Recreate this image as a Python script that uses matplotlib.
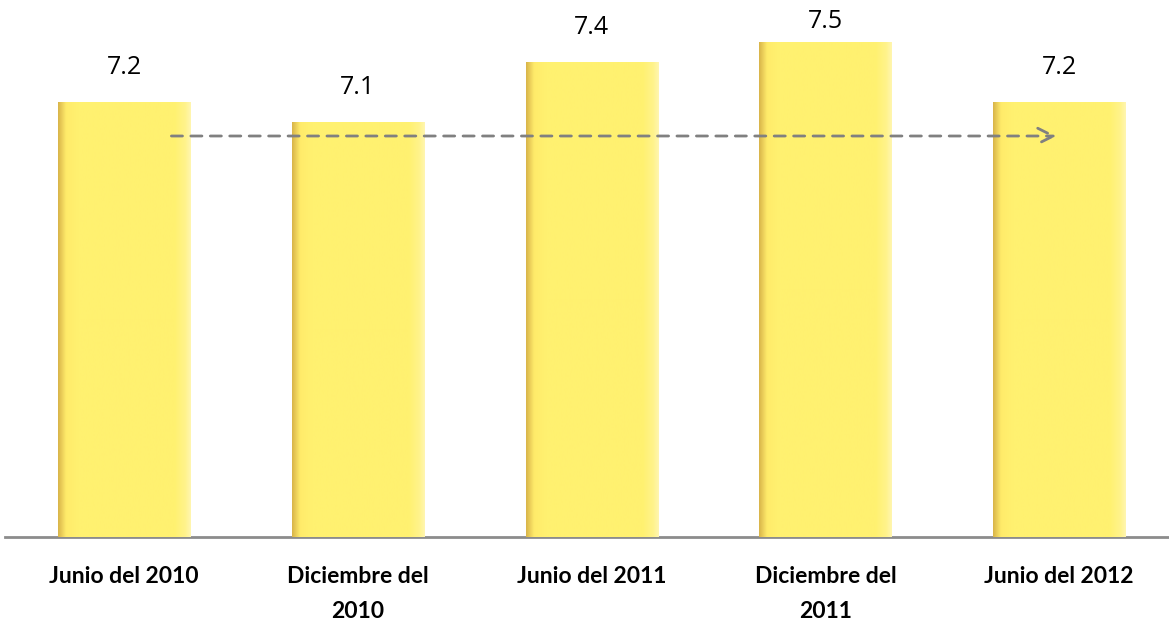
import numpy as np
import matplotlib
matplotlib.use("Agg")
from matplotlib import pyplot as plt
from matplotlib.colors import LinearSegmentedColormap

periodos = ["Junio del 2010", "Diciembre del\n2010", "Junio del 2011",
            "Diciembre del\n2011", "Junio del 2012"]
valores = [7.2, 7.1, 7.4, 7.5, 7.2]

# tendencia (flecha discontinua)
flecha_x = [0.19, 4.0]
flecha_y = [7.03, 7.03]

plt.rcParams['font.family'] = ['Lato', 'DejaVu Sans']

fig = plt.figure(figsize=(11.69, 6.25), dpi=100)
ax = fig.add_axes([5 / 1169, 88 / 625, 1164 / 1169, 537 / 625])

x = np.arange(len(valores))
ancho = 0.565
ymin, ymax = 5.025, 7.71

barras = ax.bar(x, [v - ymin for v in valores], ancho, bottom=ymin,
                color="#FFF170", edgecolor="none", zorder=2)

# degradado horizontal en cada barra
cmap = LinearSegmentedColormap.from_list(
    "amarillo", [(0, "#D9B54A"), (0.06, "#FFEB6A"), (0.15, "#FFF170"),
                 (0.88, "#FFF170"), (0.96, "#FFF38C"), (1, "#FFF6B0")])
grad = np.linspace(0, 1, 256).reshape(1, -1)
for b in barras:
    x0, y0 = b.get_x(), b.get_y()
    w, h = b.get_width(), b.get_height()
    im = ax.imshow(grad, cmap=cmap, aspect="auto", zorder=3,
                   extent=(x0, x0 + w, y0, y0 + h))
    im.set_clip_path(b)

# etiquetas de valor
for xi, v in zip(x, valores):
    ax.text(xi, min(v + 0.175, 7.6), f"{v:.1f}", ha="center", va="center",
            fontsize=18, color="black", family=["Open Sans", "DejaVu Sans"],
            zorder=5)

ax.annotate("", xy=(flecha_x[1], flecha_y[1]), xytext=(flecha_x[0], flecha_y[0]),
            arrowprops=dict(arrowstyle="->", color="#808080", lw=2,
                            linestyle=(0, (4, 3)), mutation_scale=28),
            zorder=6)

ax.set_xlim(-0.51, 4.47)
ax.set_ylim(ymin, ymax)
ax.set_xticks(x)
ax.set_xticklabels(periodos, fontsize=16.5, fontweight="bold", linespacing=1.8)
ax.tick_params(axis="x", length=0, pad=21)
ax.set_yticks([])
for s in ["top", "right", "left"]:
    ax.spines[s].set_visible(False)
ax.spines["bottom"].set_color("#8C8C8C")
ax.spines["bottom"].set_linewidth(2)

fig.savefig("out.png", dpi=100)
